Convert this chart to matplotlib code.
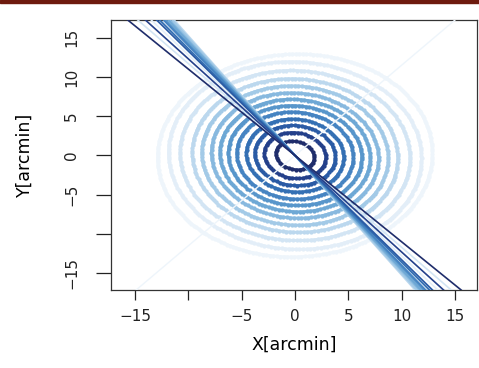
import numpy as np
import matplotlib
matplotlib.use("Agg")
import matplotlib.pyplot as plt
from matplotlib.patches import Rectangle

plt.rcParams['font.family'] = ['DejaVu Sans']

# --- data ---
ring_radius = [1.8, 2.9, 3.8, 4.6, 5.5, 6.3, 7.1, 7.9, 8.8, 9.7, 10.8, 11.9, 12.9]
ring_axis_ratio = [1.15, 1.08, 1.06, 1.06, 1.05, 1.05, 1.05, 1.05, 1.04, 1.04, 1.03, 1.03, 1.02]
ring_slope = [-1.10, -1.23, -1.33, -1.36, -1.40, -1.42, -1.45, -1.47, -1.50, -1.52, -1.17, -1.28, 1.15]
x_ticks = [-15, -10, -5, 0, 5, 10, 15]
x_ticklabels = ['\u221215', '', '\u22125', '0', '5', '10', '15']
y_ticks = [-15, -10, -5, 0, 5, 10, 15]
y_ticklabels = ['\u221215', '', '\u22125', '0', '5', '10', '15']

ring_colors = ['#1f2d6b', '#24408a', '#2a5ba5', '#3470b4', '#4684c2', '#5896cb',
               '#6ea8d5', '#88b9df', '#a3cae7', '#bcd8ee', '#d3e5f4', '#e3eef8', '#eef5fb']
line_widths = [1.2, 1.2, 1.3, 1.3, 1.4, 1.4, 1.5, 1.5, 1.5, 1.5, 1.2, 1.2, 1.0]

W, H = 479, 368
fig = plt.figure(figsize=(W / 100, H / 100), dpi=100)
fig.patches.append(Rectangle((0, 1 - 3 / H), 1, 3 / H, transform=fig.transFigure,
                             color='#6e1a0e', zorder=10))

L, R, T, B = 111, 477, 20, 290
ax = fig.add_axes([L / W, 1 - B / H, (R - L) / W, (B - T) / H])
ax.set_xlim(-17.25, 17.06)
ax.set_ylim(-17.13, 17.25)

# contour rings drawn as dotted thick curves
for r, q, s, c in zip(ring_radius, ring_axis_ratio, ring_slope, ring_colors):
    th = np.arctan(s)
    a, b = r * np.sqrt(q), r / np.sqrt(q)
    n = max(int(2 * np.pi * r / 0.33), 24)
    t = np.linspace(0, 2 * np.pi, n)
    ex = a * np.cos(t) * np.cos(th) - b * np.sin(t) * np.sin(th)
    ey = a * np.cos(t) * np.sin(th) + b * np.sin(t) * np.cos(th)
    ax.plot(ex, ey, '-', color=c, lw=2.0, zorder=2, solid_capstyle='round')
    ax.plot(ex, ey, 'o', color=c, ms=3.1, mew=0, zorder=2)

# major-axis lines for each ring
order = list(range(len(ring_slope)))[::-1]
for i in order:
    ax.axline((0, 0), slope=ring_slope[i], color=ring_colors[i], lw=line_widths[i], zorder=3)

ax.set_xticks(x_ticks)
ax.set_xticklabels(x_ticklabels, fontsize=11)
ax.set_yticks(y_ticks)
ax.set_yticklabels(y_ticklabels, fontsize=11, rotation=90, va='center')
ax.tick_params(axis='x', direction='out', length=7, width=0.9, pad=7, colors='#222222')
ax.tick_params(axis='y', direction='out', length=11, width=0.9, pad=12, colors='#222222')
for sp in ax.spines.values():
    sp.set_linewidth(0.9)
    sp.set_color('#333333')

ax.set_xlabel('X[arcmin]', fontsize=12.5, labelpad=8)
ax.set_ylabel('Y[arcmin]', fontsize=12.5, labelpad=22)

fig.savefig('out.png', dpi=100)
